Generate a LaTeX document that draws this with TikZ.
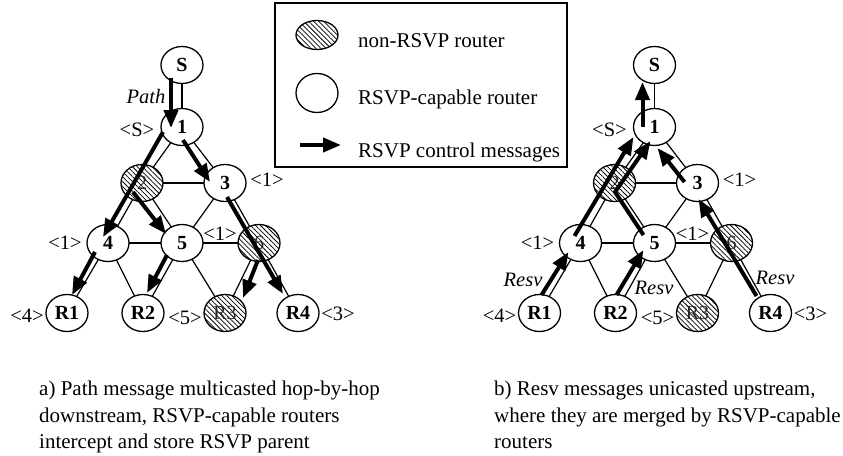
\documentclass[tikz,border=0pt]{standalone}
\usepackage{fontspec}
\setmainfont{Liberation Serif}
\usetikzlibrary{shapes.geometric,arrows.meta,patterns.meta,calc}

\tikzset{
  hatch/.style={pattern={Lines[angle=-45,distance=3.5pt,line width=0.75pt]},
    pattern color=black},
  router/.style={ellipse, draw, line width=1.3pt, fill=white,
    minimum width=42pt, minimum height=37pt, inner sep=0pt, outer sep=0pt,
    font=\fontsize{20}{24}\selectfont\bfseries},
  plainrouter/.style={router, postaction={hatch},
    font=\fontsize{20}{24}\selectfont, text=black!85},
  link/.style={line width=1.2pt},
  msg/.style={line width=4pt, -{Triangle[length=18pt,width=14pt]}},
  tag/.style={font=\fontsize{20.5}{24}\selectfont, inner sep=0pt},
  msgtag/.style={font=\fontsize{20.5}{24}\selectfont\itshape, inner sep=0pt},
  captext/.style={font=\fontsize{21}{26}\selectfont, inner sep=0pt, anchor=base west},
  keytext/.style={font=\fontsize{21}{26}\selectfont, inner sep=0pt, anchor=base west},
}

% One copy of the router network; #1 is the prefix of the node names
\newcommand\routernet[1]{%
  \node[router]      (#1S)  at (182,65)  {S};
  \node[router]      (#11)  at (182,127) {1};
  \node[plainrouter] (#12)  at (142,183) {2};
  \node[router]      (#13)  at (225,183) {3};
  \node[router]      (#14)  at (108,243) {4};
  \node[router]      (#15)  at (182,243) {5};
  \node[plainrouter] (#16)  at (259,243) {6};
  \node[router]      (#1R1) at (67,313)  {R1};
  \node[router]      (#1R2) at (143,313) {R2};
  \node[plainrouter] (#1R3) at (225,313) {R3};
  \node[router]      (#1R4) at (298,313) {R4};
  % links
  \draw[link] (#1S) -- (#11);
  \draw[link] (#11) -- (#12);
  \draw[link] (#11) -- (#13);
  \draw[link] (#12) -- (#13);
  \draw[link] (#12) -- (#14);
  \draw[link] (#12) -- (#15);
  \draw[link] (#13) -- (#15);
  \draw[link] (#13) -- (#16);
  \draw[link] (#14) -- (#15);
  \draw[link] (#15) -- (#16);
  \draw[link] (#14) -- (#1R1);
  \draw[link] (#14) -- (#1R2);
  \draw[link] (#15) -- (#1R2);
  \draw[link] (#15) -- (#1R3);
  \draw[link] (#16) -- (#1R3);
  \draw[link] (#16) -- (#1R4);
  % parent labels
  \node[tag] (#1pS)  at (137,130) {<S>};
  \node[tag] (#1p3)  at (267,180) {<1>};
  \node[tag] (#1p4)  at (65,243)  {<1>};
  \node[tag] (#1p6)  at (220,234) {<1>};
  \node[tag] (#1pR1) at (27,316)  {<4>};
  \node[tag] (#1pR3) at (185,318) {<5>};
  \node[tag] (#1pR4) at (338,314) {<3>};
}

\begin{document}
\begin{tikzpicture}[x=1pt,y=-1pt]
\useasboundingbox (0,0) rectangle (843,455);

% legend
\draw[line width=1.3pt] (275,3) rectangle (567,167);
\node[plainrouter, minimum height=29pt] (keyhatch) at (317,35) {};
\node[keytext] (keyhatchtext) at (358,47) {non-RSVP router};
\node[router, minimum height=39pt] (keyopen) at (317,93) {};
\node[keytext] (keyopentext) at (358,104) {RSVP-capable router};
\coordinate (keyfrom) at (300,145);
\coordinate (keyto) at (341,145);
\draw[msg] (keyfrom) -- (keyto);
\node[keytext] (keymsgtext) at (358,157) {RSVP control messages};

% a) Path messages travelling downstream
\routernet{a}
\node[msgtag] (pathtag) at (146,96) {Path};
\draw[msg] ($(aS)+(-11,13)$) -- ($(a1)+(-11,1)$);
\draw[msg] ($(a1)+(1,13)$) -- ($(a3)+(-15,-1)$);
\draw[msg] ($(a1)+(-19,5)$) -- ($(a4)+(-5,-6)$);
\draw[msg] ($(a2)+(-9,9)$) -- ($(a5)+(-16,-9)$);
\draw[msg] ($(a3)+(2,14)$) -- ($(aR4)+(-15,-19)$);
\draw[msg] ($(a4)+(-13,9)$) -- ($(aR1)+(5,-18)$);
\draw[msg] ($(a5)+(-15,12)$) -- ($(aR2)+(4,-20)$);
\draw[msg] ($(a6)+(-1,17)$) -- ($(aR3)+(18,-15)$);

% b) Resv messages travelling upstream
\begin{scope}[shift={(472.5,0)}]
\routernet{b}
\end{scope}
\node[msgtag] (resvtag1) at (523,280) {Resv};
\node[msgtag] (resvtag2) at (654,288) {Resv};
\node[msgtag] (resvtag4) at (775,278) {Resv};
\draw[msg] ($(b1)+(-12,0)$) -- ($(bS)+(-12,17)$);
\draw[msg] ($(b4)+(-6,-7)$) -- ($(b1)+(-21,10)$);
\draw[msg] ($(b5)+(-11,-8)$) -- ($(b2)+(0.5,9)$) -- ($(b1)+(-4,14)$);
\draw[msg] ($(b3)+(-13,-1)$) -- ($(b1)+(3,21)$);
\draw[msg] ($(bR4)+(-14,-17)$) -- ($(b3)+(1,16)$);
\draw[msg] ($(bR1)+(2,-18)$) -- ($(b4)+(-12,9)$);
\draw[msg] ($(bR2)+(1,-18)$) -- ($(b5)+(-11,7)$);

% captions
\node[captext] (capa1) at (39,395) {a) Path message multicasted hop-by-hop};
\node[captext] (capa2) at (39,422) {downstream, RSVP-capable routers};
\node[captext] (capa3) at (39,448) {intercept and store RSVP parent};
\node[captext] (capb1) at (494,395) {b) Resv messages unicasted upstream,};
\node[captext] (capb2) at (494,422) {where they are merged by RSVP-capable};
\node[captext] (capb3) at (494,448) {routers};
\end{tikzpicture}
\end{document}
